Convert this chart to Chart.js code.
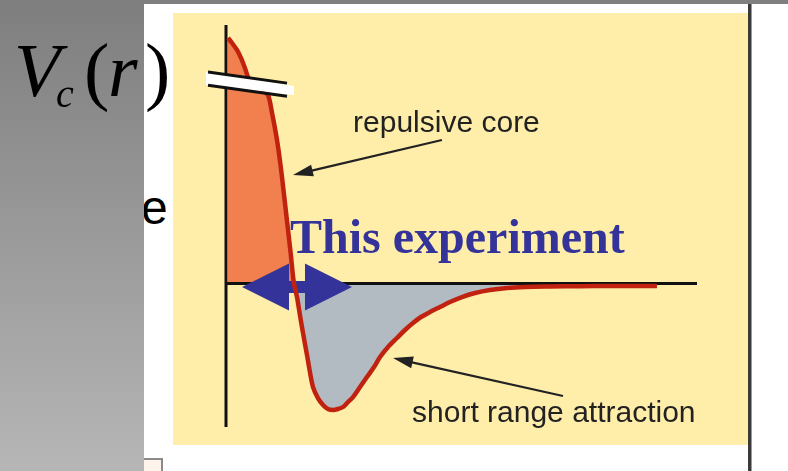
<!DOCTYPE html>
<html>
<head>
<meta charset="utf-8">
<script src="https://cdn.jsdelivr.net/npm/chart.js@4.4.0/dist/chart.umd.min.js"></script>
<style>
  html, body { margin: 0; padding: 0; }
  body { width: 788px; height: 471px; position: relative; overflow: hidden; background: #fff; }
  .topbar { position: absolute; left: 0; top: 0; width: 788px; height: 4px; background: #7f7f7f; z-index: 3; }
  .side { position: absolute; left: 0; top: 0; width: 144px; height: 471px; z-index: 2;
          background: linear-gradient(to bottom, #7e7e7e, #b6b6b6); }
  .panel { position: absolute; left: 173px; top: 13px; width: 575px; height: 432px; background: #ffeeaa; }
  .edge { position: absolute; left: 748px; top: 4px; width: 3px; height: 467px; background: #3a3a3a;
          box-shadow: 1px 0 0 #9a9a9a; }
  .stub { position: absolute; left: 144px; top: 458px; width: 17px; height: 20px; background: #fff4ec;
          border-top: 2px solid #8a8a8a; border-right: 2px solid #8a8a8a; }
  .e { position: absolute; left: 141px; top: 180px; font: 48px "Liberation Sans", Arial, sans-serif; color: #000; z-index: 1; }
  .vc { position: absolute; font-family: "Liberation Serif", "Times New Roman", serif; color: #000; z-index: 4; line-height: 1; }
  canvas { position: absolute; left: 0; top: 0; z-index: 1; }
</style>
</head>
<body>
<div class="topbar"></div>
<div class="panel"></div>
<div class="edge"></div>
<div class="e">e</div>
<div class="side"></div>
<div class="stub"></div>
<span class="vc" style="left:14px; top:32px; font-size:76px; font-style:italic;">V</span>
<span class="vc" style="left:56px; top:74px; font-size:40px; font-style:italic;">c</span>
<span class="vc" style="left:84px; top:32px; font-size:76px;">(</span>
<span class="vc" style="left:108px; top:32px; font-size:76px; font-style:italic;">r</span>
<span class="vc" style="left:145px; top:32px; font-size:76px;">)</span>
<canvas id="potential" width="788" height="471"></canvas>
<script>
// separation r (fm) and central potential V_c (MeV); top part sits above the axis break
const radius = [0.017, 0.051, 0.093, 0.127, 0.161, 0.195, 0.255, 0.306, 0.357, 0.391, 0.433, 0.463,
  0.493, 0.522, 0.548, 0.577, 0.603, 0.628, 0.654, 0.688, 0.713, 0.739, 0.781, 0.824, 0.866, 0.909,
  0.951, 0.994, 1.036, 1.079, 1.138, 1.197, 1.257, 1.308, 1.376, 1.452, 1.520, 1.588, 1.656, 1.732,
  1.817, 1.902, 2.004, 2.115, 2.242, 2.386, 2.539, 2.752, 3.006, 3.261, 3.473, 3.660];
const potential = [196.6, 192.6, 187.0, 180.6, 172.5, 163.7, 158.9, 154.9, 150.9, 136.5, 114.9, 94.8,
  70.8, 46.8, 25.2, 0, -10.9, -25.3, -39.7, -57.4, -71.0, -83.0, -91.8, -97.4, -100.6, -101.4,
  -100.6, -99.0, -95.0, -91.0, -83.0, -75.0, -67.0, -59.0, -50.9, -43.7, -37.3, -31.7, -26.9, -22.9,
  -18.9, -14.9, -10.9, -7.7, -5.3, -3.7, -2.9, -2.5, -2.2, -2.1, -2.1, -2.1];

const rRange = [0, 4];
const vRange = [-115, 207];

// callouts, anchored in data units
const callouts = [
  { text: 'repulsive core', at: [1.079, 121.3], from: [1.834, 114.9], to: [0.569, 86.8] },
  { text: 'short range attraction', at: [1.580, -111.0], from: [2.862, -90.2], to: [1.418, -59.8] }
];
const experimentLabel = { text: 'This experiment', at: [0.544, 24.4] };
const experimentSpan = { r: [0.136, 1.070], v: -2.9 };
const axisBreak = { r: 0, v: 162 };

function arrow(ctx, x1, y1, x2, y2) {
  const a = Math.atan2(y2 - y1, x2 - x1);
  const len = 20, half = 6;
  ctx.beginPath();
  ctx.moveTo(x1, y1);
  ctx.lineTo(x2 - Math.cos(a) * len * 0.8, y2 - Math.sin(a) * len * 0.8);
  ctx.stroke();
  ctx.beginPath();
  ctx.moveTo(x2, y2);
  ctx.lineTo(x2 - Math.cos(a) * len - Math.sin(a) * half, y2 - Math.sin(a) * len + Math.cos(a) * half);
  ctx.lineTo(x2 - Math.cos(a) * len + Math.sin(a) * half, y2 - Math.sin(a) * len - Math.cos(a) * half);
  ctx.closePath();
  ctx.fill();
}

const decor = {
  id: 'decor',
  // axes and the blue span go between the fill and the red curve
  beforeDatasetDraw(chart) {
    const { ctx, scales: { x, y } } = chart;
    const x0 = x.getPixelForValue(0), y0 = y.getPixelForValue(0);
    ctx.save();
    ctx.strokeStyle = '#111';
    ctx.lineWidth = 3;
    ctx.beginPath();
    ctx.moveTo(x0, y.getPixelForValue(vRange[1]));
    ctx.lineTo(x0, y.getPixelForValue(vRange[0]));
    ctx.moveTo(x0, y0);
    ctx.lineTo(x.getPixelForValue(rRange[1]), y0);
    ctx.stroke();

    const xl = x.getPixelForValue(experimentSpan.r[0]);
    const xr = x.getPixelForValue(experimentSpan.r[1]);
    const cy = y.getPixelForValue(experimentSpan.v);
    const head = 47, hh = 23.5, sh = 6;
    ctx.fillStyle = '#333399';
    ctx.beginPath();
    ctx.moveTo(xl, cy);
    ctx.lineTo(xl + head, cy - hh);
    ctx.lineTo(xl + head, cy - sh);
    ctx.lineTo(xr - head, cy - sh);
    ctx.lineTo(xr - head, cy - hh);
    ctx.lineTo(xr, cy);
    ctx.lineTo(xr - head, cy + hh);
    ctx.lineTo(xr - head, cy + sh);
    ctx.lineTo(xl + head, cy + sh);
    ctx.lineTo(xl + head, cy + hh);
    ctx.closePath();
    ctx.fill();
    ctx.restore();
  },
  afterDatasetsDraw(chart) {
    const { ctx, scales: { x, y } } = chart;
    ctx.save();

    // axis break: white band between two slanted strokes
    const bx = x.getPixelForValue(axisBreak.r), by = y.getPixelForValue(axisBreak.v);
    const slope = 0.14, gap = 6.6;
    const yAt = (px, off) => by + off + slope * (px - bx);
    ctx.fillStyle = '#fff';
    ctx.beginPath();
    ctx.moveTo(bx - 20, yAt(bx - 20, -gap));
    ctx.lineTo(bx + 68, yAt(bx + 68, -gap + 2));
    ctx.lineTo(bx + 68, yAt(bx + 68, gap - 2));
    ctx.lineTo(bx - 20, yAt(bx - 20, gap));
    ctx.closePath();
    ctx.fill();
    ctx.strokeStyle = '#111';
    ctx.lineWidth = 3;
    ctx.beginPath();
    ctx.moveTo(bx - 18, yAt(bx - 18, -gap));
    ctx.lineTo(bx + 61, yAt(bx + 61, -gap));
    ctx.moveTo(bx - 18, yAt(bx - 18, gap));
    ctx.lineTo(bx + 61, yAt(bx + 61, gap));
    ctx.stroke();

    // callouts
    ctx.fillStyle = '#222';
    ctx.strokeStyle = '#222';
    ctx.lineWidth = 2.2;
    ctx.font = '30px "Liberation Sans", Arial, sans-serif';
    ctx.textBaseline = 'alphabetic';
    callouts.forEach(c => {
      ctx.fillText(c.text, x.getPixelForValue(c.at[0]), y.getPixelForValue(c.at[1]));
      arrow(ctx, x.getPixelForValue(c.from[0]), y.getPixelForValue(c.from[1]),
        x.getPixelForValue(c.to[0]), y.getPixelForValue(c.to[1]));
    });

    ctx.fillStyle = '#333399';
    ctx.font = 'bold 48px "Liberation Serif", "Times New Roman", serif';
    ctx.fillText(experimentLabel.text, x.getPixelForValue(experimentLabel.at[0]), y.getPixelForValue(experimentLabel.at[1]));
    ctx.restore();
  }
};

new Chart(document.getElementById('potential'), {
  type: 'line',
  data: {
    datasets: [{
      data: radius.map((r, i) => ({ x: r, y: potential[i] })),
      borderColor: '#c0220f',
      borderWidth: 4.5,
      pointRadius: 0,
      tension: 0.3,
      fill: { target: 'origin', above: '#f1804e', below: '#b2bac2' }
    }]
  },
  options: {
    responsive: false,
    animation: false,
    devicePixelRatio: 1,
    layout: { padding: { left: 226, right: 91, top: 25, bottom: 44 } },
    scales: {
      x: { type: 'linear', min: rRange[0], max: rRange[1], display: false },
      y: { min: vRange[0], max: vRange[1], display: false }
    },
    plugins: { legend: { display: false }, tooltip: { enabled: false } }
  },
  plugins: [decor]
});
</script>
</body>
</html>
